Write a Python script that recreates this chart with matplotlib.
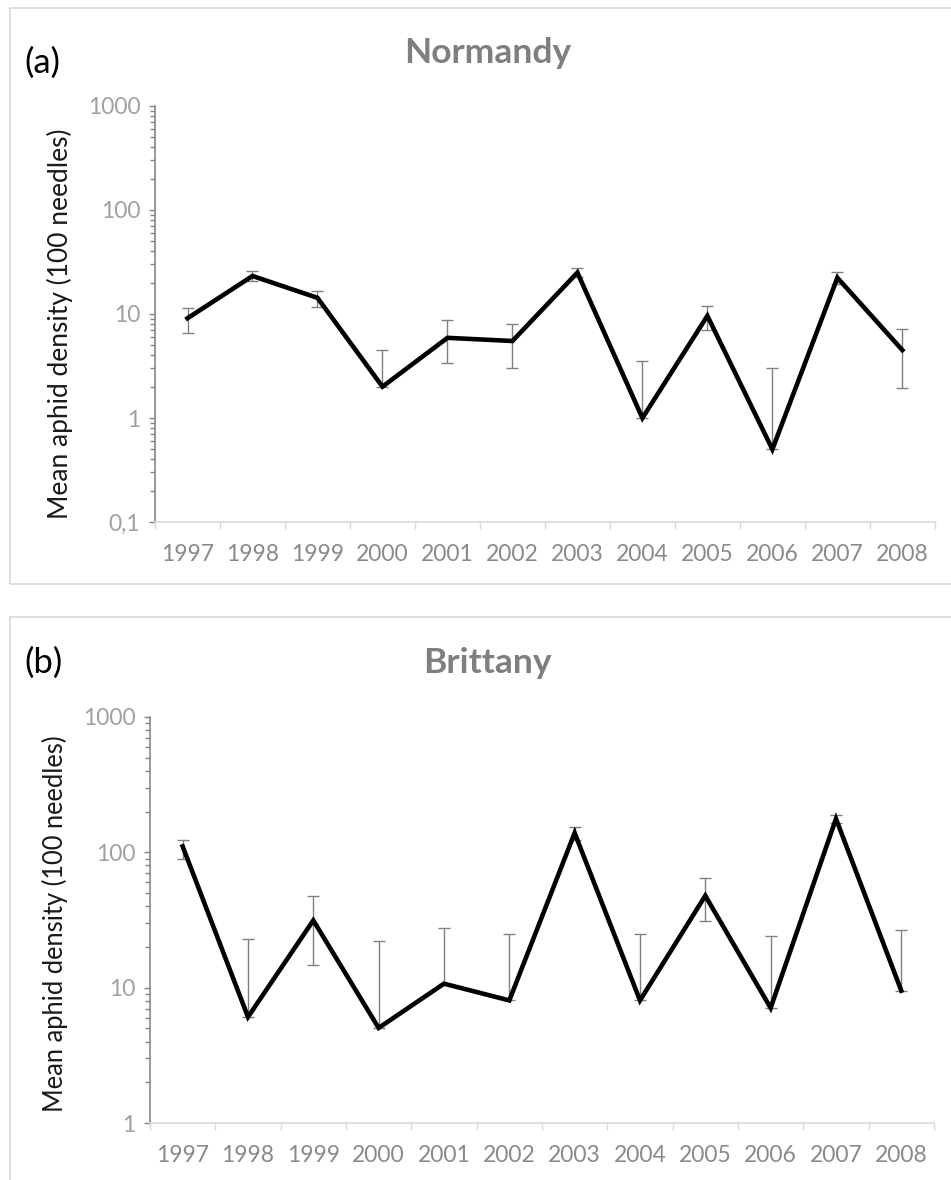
import numpy as np
import matplotlib
matplotlib.use("Agg")
import matplotlib.pyplot as plt
from matplotlib.patches import Rectangle
from matplotlib.ticker import FixedLocator, FixedFormatter, LogLocator, NullFormatter

plt.rcParams['font.family'] = ['Lato', 'DejaVu Sans']

years = ['1997', '1998', '1999', '2000', '2001', '2002',
         '2003', '2004', '2005', '2006', '2007', '2008']

# Normandy: mean, upper error end, lower error end
norm_mean = [9.1, 23.2, 14.3, 2.0, 5.9, 5.5, 25.0, 1.0, 9.6, 0.5, 22.3, 4.5]
norm_hi = [11.5, 25.9, 16.6, 4.5, 8.7, 8.0, 27.5, 3.5, 12.0, 3.05, 25.3, 7.1]
norm_lo = [6.6, 20.7, 11.6, 2.0, 3.4, 3.0, 22.5, 1.0, 7.0, 0.5, 19.5, 1.96]

# Brittany
brit_mean = [110.7, 6.07, 31.4, 5.04, 10.7, 8.05, 139, 8.05, 47.8, 7.08, 177, 9.5]
brit_hi = [124, 23, 47.8, 22, 27.4, 25.1, 154, 25.1, 64.7, 23.9, 188, 26.8]
brit_lo = [89.8, 6.07, 14.6, 5.04, 10.7, 8.05, 124, 8.05, 31.3, 7.08, 166, 9.5]

fig = plt.figure(figsize=(9.51, 11.8), dpi=100)

# chart area frames
for y0, y1 in [(0.5051, 0.9932), (-0.02, 0.4771)]:
    fig.patches.append(Rectangle((0.0105, y0), 1.0, y1 - y0, transform=fig.transFigure,
                                 fill=False, edgecolor='#d9d9d9', linewidth=1.2))


def draw_panel(rect, mean, hi, lo, ymin, title, tag, tag_y, title_y, lab_size, lab_x, lab_y):
    ax = fig.add_axes(rect)
    x = np.arange(len(years))
    mean = np.array(mean)
    err = [mean - np.array(lo), np.array(hi) - mean]
    ax.errorbar(x, mean, yerr=err, fmt='none', ecolor='#808080', elinewidth=1.0,
                capsize=4.5, capthick=1.0, zorder=2)
    ax.plot(x, mean, color='black', linewidth=3.3, zorder=3, solid_joinstyle='miter')
    ax.set_yscale('log')
    ax.set_ylim(ymin, 1000)
    ax.set_xlim(-0.5, len(years) - 0.5)

    majors = [v for v in [0.1, 1, 10, 100, 1000] if v >= ymin]
    labels = [str(v).replace('.', ',') if v < 1 else str(int(v)) for v in majors]
    ax.yaxis.set_major_locator(FixedLocator(majors))
    ax.yaxis.set_major_formatter(FixedFormatter(labels))
    ax.yaxis.set_minor_locator(LogLocator(base=10, subs=np.arange(2, 10)))
    ax.yaxis.set_minor_formatter(NullFormatter())

    ax.set_xticks(np.arange(-0.5, len(years), 1.0))
    ax.set_xticklabels([])
    ax.set_xticks(x, minor=True)
    ax.set_xticklabels(years, minor=True)

    for s in ['top', 'right']:
        ax.spines[s].set_visible(False)
    ax.spines['left'].set_color('#868686')
    ax.spines['left'].set_linewidth(1.2)
    ax.spines['bottom'].set_color('#d9d9d9')
    ax.spines['bottom'].set_linewidth(1.2)

    ax.tick_params(axis='y', which='major', length=4.5, width=1.0, color='#868686',
                   labelsize=16.5, labelcolor='#a0a0a0', pad=6)
    ax.tick_params(axis='y', which='minor', length=3.5, width=1.0, color='#868686')
    ax.tick_params(axis='x', which='major', length=5, width=1.0, color='#d9d9d9')
    ax.tick_params(axis='x', which='minor', length=0, labelsize=16.5,
                   labelcolor='#8a8a8a', pad=16)

    ax.set_ylabel('Mean aphid density (100 needles)', fontsize=lab_size, color='#1a1a1a')
    ax.yaxis.set_label_coords(lab_x, lab_y, transform=fig.transFigure)

    fig.text(0.513, title_y, title, fontsize=25.5, fontweight='bold', color='#7f7f7f',
             ha='center', va='center')
    fig.text(0.026, tag_y, tag, fontsize=25, color='black', ha='left', va='center')
    return ax


draw_panel([0.163, 0.5576, 0.820, 0.3526], norm_mean, norm_hi, norm_lo, 0.1,
           'Normandy', '(a)', 0.947, 0.955, 19, 0.077, 0.7254)
draw_panel([0.1577, 0.0483, 0.8244, 0.3441], brit_mean, brit_hi, brit_lo, 1,
           'Brittany', '(b)', 0.438, 0.438, 18.4, 0.072, 0.2176)

fig.savefig('out.png', dpi=100)
